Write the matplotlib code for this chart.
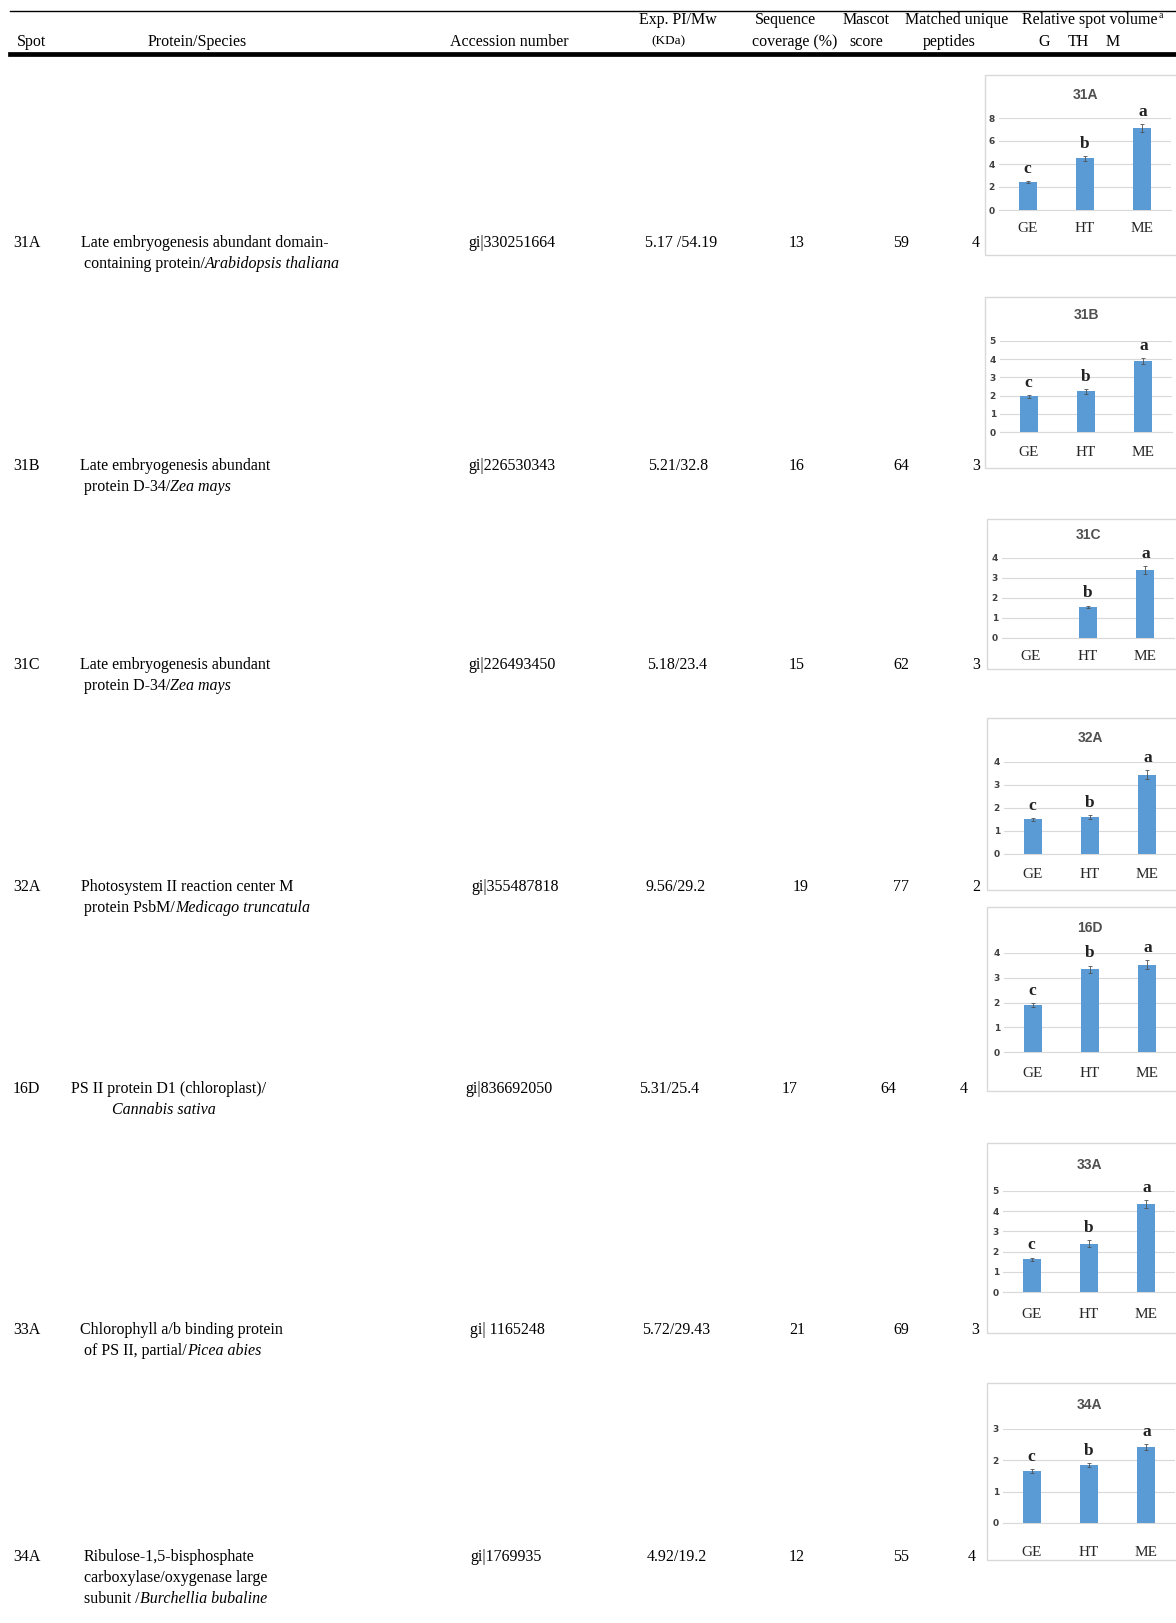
import numpy as np
import matplotlib
matplotlib.use("Agg")
import matplotlib.pyplot as plt
from matplotlib.patches import Rectangle

# ---- table data ----
spots = ["31A", "31B", "31C", "32A", "16D", "33A", "34A"]
protein_lines = [
    ["Late embryogenesis abundant domain-", "containing protein/"],
    ["Late embryogenesis abundant", "protein D-34/"],
    ["Late embryogenesis abundant", "protein D-34/"],
    ["Photosystem II reaction center M", "protein PsbM/"],
    ["PS II protein D1 (chloroplast)/", ""],
    ["Chlorophyll a/b binding protein", "of PS II, partial/"],
    ["Ribulose-1,5-bisphosphate", "carboxylase/oxygenase large", "subunit /"],
]
species = ["Arabidopsis thaliana", "Zea mays", "Zea mays", "Medicago truncatula",
           "Cannabis sativa", "Picea abies", "Burchellia bubaline"]
accessions = ["gi|330251664", "gi|226530343", "gi|226493450", "gi|355487818",
              "gi|836692050", "gi| 1165248", "gi|1769935"]
pi_mw = ["5.17 /54.19", "5.21/32.8", "5.18/23.4", "9.56/29.2", "5.31/25.4",
         "5.72/29.43", "4.92/19.2"]
coverage = [13, 16, 15, 19, 17, 21, 12]
mascot = [59, 64, 62, 77, 64, 69, 55]
peptides = [4, 3, 3, 2, 4, 3, 4]

# ---- relative spot volume charts ----
groups = ["GE", "HT", "ME"]
volume = [
    [2.47, 4.50, 7.12],
    [1.96, 2.23, 3.90],
    [0.00, 1.55, 3.38],
    [1.51, 1.61, 3.45],
    [1.89, 3.34, 3.53],
    [1.62, 2.40, 4.34],
    [1.66, 1.85, 2.43],
]
volume_err = [
    [0.08, 0.20, 0.35],
    [0.07, 0.15, 0.18],
    [0.00, 0.07, 0.20],
    [0.06, 0.08, 0.20],
    [0.08, 0.15, 0.17],
    [0.08, 0.15, 0.20],
    [0.07, 0.05, 0.10],
]
letters = [
    ["c", "b", "a"], ["c", "b", "a"], ["", "b", "a"], ["c", "b", "a"],
    ["c", "b", "a"], ["c", "b", "a"], ["c", "b", "a"],
]
y_max = [8, 5, 4, 4, 4, 5, 3]
y_step = [2, 1, 1, 1, 1, 1, 1]

# ---- layout (pixels of the 1176x1623 page) ----
W, H = 1176, 1623
row_y = [243, 466, 665, 887, 1089, 1330, 1557]
line_gap = 21
spot_x = 13
line1_x = [81, 80, 80, 81, 71, 80, 84]
line2_x = [84, 84, 84, 84, 112, 84, 84]
acc_x = [468, 468, 468, 471, 465, 470, 470]
pi_x = [681, 678, 677, 676, 669, 676, 677]
cov_x = [797, 797, 797, 801, 790, 797, 797]
mas_x = [901, 901, 901, 901, 888, 901, 901]
pep_x = [976, 976, 976, 976, 964, 975, 972]

box = [(985, 75, 255), (985, 297, 468), (987, 519, 669), (987, 718, 890),
       (987, 907, 1091), (987, 1143, 1333), (987, 1383, 1560)]
plot_left = [999, 1000, 1002, 1004, 1004, 1003, 1003]
plot_top = [118, 341, 558, 762, 953, 1191, 1429]
plot_zero = [210, 432, 638, 854, 1052, 1292, 1523]
title_y = [95, 315, 535, 738, 928, 1165, 1405]
cat_pad = [12, 14, 12, 14, 15, 16, 23]
plot_w = 172

SERIF = "Liberation Serif"
FS = 11.5
BAR = "#5B9BD5"
GRID = "#d9d9d9"

fig = plt.figure(figsize=(W / 100, H / 100), dpi=100)
tab = fig.add_axes([0, 0, 1, 1])
tab.set_xlim(0, W)
tab.set_ylim(H, 0)
tab.axis("off")
renderer = fig.canvas.get_renderer()


def txt(x, y, s, ha="left", size=FS, style="normal"):
    return tab.text(x, y, s, ha=ha, va="center", fontsize=size,
                    family=SERIF, fontstyle=style)


def next_x(t):
    return t.get_window_extent(renderer).x1


# header
tab.plot([10, W], [11, 11], color="black", lw=1.0)
tab.plot([10, W], [54, 54], color="black", lw=3.4)
hy1, hy2 = 20, 41.5
txt(32, hy2, "Spot", "center")
txt(197, hy2, "Protein/Species", "center")
txt(509, hy2, "Accession number", "center")
txt(678, hy1, "Exp. PI/Mw", "center")
txt(668, hy2, "(KDa)", "center", size=9.5)
txt(785, hy1, "Sequence", "center")
txt(795, hy2, "coverage (%)", "center")
txt(866, hy1, "Mascot", "center")
txt(866, hy2, "score", "center")
txt(957, hy1, "Matched unique", "center")
txt(949, hy2, "peptides", "center")
t = txt(1022, hy1, "Relative spot volume")
tab.text(next_x(t) + 1, hy1 - 5, "a", ha="left", va="center", fontsize=7, family=SERIF)
for g, gx in zip(["G", "TH", "M"], [1044, 1078, 1113]):
    txt(gx, hy2, g, "center")

# rows
for i, spot in enumerate(spots):
    y = row_y[i]
    txt(spot_x, y, spot)
    lines = protein_lines[i]
    for k, line in enumerate(lines):
        ly = y + k * line_gap
        lx = line1_x[i] if k == 0 else line2_x[i]
        if k == len(lines) - 1:
            if line:
                t = txt(lx, ly, line)
                lx = next_x(t)
            txt(lx, ly, species[i], style="italic")
        else:
            txt(lx, ly, line)
    txt(acc_x[i], y, accessions[i])
    txt(pi_x[i], y, pi_mw[i], "center")
    txt(cov_x[i], y, str(coverage[i]), "center")
    txt(mas_x[i], y, str(mascot[i]), "center")
    txt(pep_x[i], y, str(peptides[i]), "center")

# charts
for i, spot in enumerate(spots):
    bl, bt, bb = box[i]
    tab.add_patch(Rectangle((bl, bt), W - bl + 20, bb - bt, fill=False,
                            edgecolor=GRID, lw=1.0))
    x0, yt, yz = plot_left[i], plot_top[i], plot_zero[i]
    ax = fig.add_axes([x0 / W, 1 - yz / H, plot_w / W, (yz - yt) / H])
    ax.patch.set_alpha(0)
    xs = np.arange(len(groups))
    vals = np.array(volume[i])
    errs = np.array(volume_err[i])
    ax.bar(xs, vals, width=0.31, color=BAR, zorder=3)
    has = vals > 0
    ax.errorbar(xs[has], vals[has], yerr=errs[has], fmt="none", ecolor="#505050",
                elinewidth=0.6, capsize=1.5, capthick=0.6, zorder=4)
    for k in range(len(groups)):
        if letters[i][k]:
            ax.annotate(letters[i][k], (xs[k], vals[k] + errs[k]), xytext=(0, 3),
                        textcoords="offset points", ha="center", va="bottom",
                        fontsize=12.5, fontweight="bold", color="#222222",
                        family=SERIF)
    ax.set_xlim(-0.5, 2.5)
    ax.set_ylim(0, y_max[i])
    ax.set_yticks(np.arange(0, y_max[i] + 1, y_step[i]))
    ax.yaxis.grid(True, color=GRID, lw=0.8, zorder=0)
    ax.set_axisbelow(True)
    for s in ["top", "right", "left"]:
        ax.spines[s].set_visible(False)
    ax.spines["bottom"].set_color(GRID)
    ax.spines["bottom"].set_linewidth(0.8)
    ax.set_xticks(xs)
    ax.set_xticklabels(groups, family=SERIF, fontsize=11, color="#262626")
    ax.tick_params(axis="x", length=0, pad=cat_pad[i] / 1.389)
    ax.tick_params(axis="y", length=0, pad=3, labelsize=6.5, labelcolor="#404040")
    for lab in ax.get_yticklabels():
        lab.set_fontweight("bold")
    tab.text(x0 + plot_w / 2, title_y[i], spot, ha="center", va="center",
             fontsize=10, fontweight="bold", color="#505050", family="Liberation Sans")

fig.savefig("out.png", dpi=100)
